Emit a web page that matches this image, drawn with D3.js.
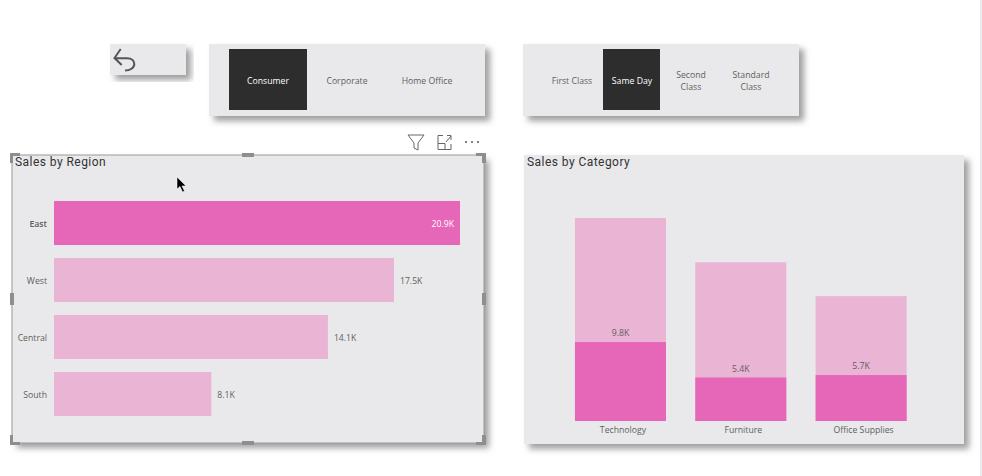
<!DOCTYPE html>
<html>
<head>
<meta charset="utf-8">
<script src="https://cdn.jsdelivr.net/npm/d3@7"></script>
<style>
    html, body { margin: 0; padding: 0; background: #fff; overflow: hidden; }
    text { font-family: "Open Sans", sans-serif; font-size: 8.7px; fill: #605e5c; }
    .title { font-family: Roboto, sans-serif; font-size: 12px; letter-spacing: 0.45px; fill: #333; }
    .axis path, .axis line { display: none; }
</style>
</head>
<body>
<svg id="page" width="982" height="476"></svg>
<script>
let svg = d3.select("#page");
let panelFill = "#e9e9eb", dark = "#2d2d2d", strong = "#e667b8", soft = "#eab4d5";

let regionData = [
    {region: "East", sales: 20.9},
    {region: "West", sales: 17.5},
    {region: "Central", sales: 14.1},
    {region: "South", sales: 8.1}
];
let categoryData = [
    {category: "Technology", total: 25.2, selected: 9.8},
    {category: "Furniture", total: 19.7, selected: 5.4},
    {category: "Office Supplies", total: 15.5, selected: 5.7}
];

// -- shadow used by all the panels -- //
let filter = svg.append("defs").append("filter").attr("id", "shadow")
    .attr("x", "-5%").attr("y", "-10%").attr("width", "115%").attr("height", "130%");
filter.append("feDropShadow").attr("dx", 5).attr("dy", 5).attr("stdDeviation", 3)
    .attr("flood-color", "#777").attr("flood-opacity", 0.7);

let panels = [[110, 44, 76, 31], [209, 44, 276, 72], [523, 44, 276, 72], [12, 155, 472, 288], [524, 155, 440, 289]];
svg.selectAll(".panel").data(panels).enter().append("rect")
    .attr("class", "panel")
    .attr("x", d => d[0]).attr("y", d => d[1])
    .attr("width", d => d[2]).attr("height", d => d[3])
    .style("fill", panelFill)
    .style("filter", "url(#shadow)");

// right edge of the window
svg.append("line").attr("x1", 981).attr("x2", 981).attr("y1", 0).attr("y2", 476)
    .style("stroke", "#d5d5dc");

// -- slicers -- //
let slicerRects = [[229, 49, 78, 61], [603, 49, 57, 61]];
svg.selectAll(".selected").data(slicerRects).enter().append("rect")
    .attr("class", "selected")
    .attr("x", d => d[0]).attr("y", d => d[1])
    .attr("width", d => d[2]).attr("height", d => d[3])
    .style("fill", dark);

let slicerItems = [
    {lines: ["Consumer"], x: 268, on: true},
    {lines: ["Corporate"], x: 347},
    {lines: ["Home Office"], x: 427},
    {lines: ["First Class"], x: 572},
    {lines: ["Same Day"], x: 632, on: true},
    {lines: ["Second", "Class"], x: 691},
    {lines: ["Standard", "Class"], x: 751}
];
slicerItems.forEach(item => {
    let t = svg.append("text")
        .attr("text-anchor", "middle")
        .style("fill", item.on ? "#fff" : "#605e5c");
    item.lines.forEach((line, i) => {
        t.append("tspan")
            .attr("x", item.x)
            .attr("y", 84 + (i - (item.lines.length - 1) / 2) * 12)
            .text(line);
    });
});

// -- back button -- //
svg.append("path")
    .attr("d", "M120.700 49 L114.500 58 L121.700 65 M115 58.300 H127 C132 58.300 134.300 61 134.300 64 C134.300 68 130 70.500 125 70.500")
    .style("fill", "none").style("stroke", "#555").style("stroke-width", 2);

// -- titles -- //
svg.append("text").attr("class", "title").attr("x", 15).attr("y", 166).text("Sales by Region");
svg.append("text").attr("class", "title").attr("x", 527).attr("y", 166).text("Sales by Category");

// -- bar chart -- //
let xScale = d3.scaleLinear().domain([0, 20.9]).range([54, 460]);
let yScale = d3.scaleBand().domain(regionData.map(d => d.region))
    .range([194.5, 422.5]).paddingInner(0.228).paddingOuter(0.114);

let yAxis = svg.append("g").attr("class", "axis")
    .attr("transform", "translate(54, 1)")
    .call(d3.axisLeft(yScale).tickSize(0).tickPadding(7));
yAxis.select(".domain").remove();
yAxis.selectAll("text").style("font-family", "'Open Sans', sans-serif").style("font-size", "8.7px")
    .style("fill", "#605e5c")
    .style("font-weight", d => d === "East" ? 600 : 400);

svg.selectAll(".bar").data(regionData).enter().append("rect")
    .attr("class", "bar")
    .attr("x", xScale(0))
    .attr("y", d => yScale(d.region))
    .attr("width", d => xScale(d.sales) - xScale(0))
    .attr("height", yScale.bandwidth())
    .style("fill", (d, i) => i === 0 ? strong : soft);

svg.selectAll(".barLabel").data(regionData).enter().append("text")
    .attr("class", "barLabel")
    .attr("x", (d, i) => i === 0 ? xScale(d.sales) - 6 : xScale(d.sales) + 6)
    .attr("y", d => yScale(d.region) + yScale.bandwidth() / 2 + 4)
    .attr("text-anchor", (d, i) => i === 0 ? "end" : "start")
    .style("fill", (d, i) => i === 0 ? "#fff" : "#605e5c")
    .text(d => d.sales + "K");

// -- column chart -- //
let colScale = d3.scaleBand().domain(categoryData.map(d => d.category))
    .range([560.3, 921.3]).paddingInner(0.2436).paddingOuter(0.1218);
let valScale = d3.scaleLinear().domain([0, 25.2]).range([421, 218]);

let colAxis = svg.append("g").attr("class", "axis")
    .attr("transform", "translate(2.5, 421)")
    .call(d3.axisBottom(colScale).tickSize(0).tickPadding(6));
colAxis.select(".domain").remove();
colAxis.selectAll("text").style("font-family", "'Open Sans', sans-serif").style("font-size", "8.7px")
    .style("fill", "#605e5c");

svg.selectAll(".col").data(categoryData).enter().append("rect")
    .attr("class", "col")
    .attr("x", d => colScale(d.category))
    .attr("y", d => valScale(d.total))
    .attr("width", colScale.bandwidth())
    .attr("height", d => valScale(0) - valScale(d.total))
    .style("fill", soft);

svg.selectAll(".colSel").data(categoryData).enter().append("rect")
    .attr("class", "colSel")
    .attr("x", d => colScale(d.category))
    .attr("y", d => valScale(d.selected))
    .attr("width", colScale.bandwidth())
    .attr("height", d => valScale(0) - valScale(d.selected))
    .style("fill", strong);

svg.selectAll(".colLabel").data(categoryData).enter().append("text")
    .attr("class", "colLabel")
    .attr("x", d => colScale(d.category) + colScale.bandwidth() / 2)
    .attr("y", d => valScale(d.selected) - 6)
    .attr("text-anchor", "middle")
    .text(d => d.selected + "K");

// -- selection frame on the left visual -- //
svg.append("rect").attr("x", 12).attr("y", 155).attr("width", 472).attr("height", 288)
    .style("fill", "none").style("stroke", "#9a9a9a").style("stroke-width", 1);

let handles = [
    "M10 153 H20 V156 H13 V163 H10 Z", "M476 153 H486 V163 H482 V156 H476 Z",
    "M10 445 H20 V442 H13 V435 H10 Z", "M476 445 H486 V435 H482 V442 H476 Z",
    "M242 153 H254 V157 H242 Z", "M242 441 H254 V445 H242 Z",
    "M10 293 H14 V305 H10 Z", "M482 293 H486 V305 H482 Z"
];
svg.selectAll(".handle").data(handles).enter().append("path")
    .attr("class", "handle").attr("d", d => d).style("fill", "#8e8e8e");

// -- visual header icons -- //
svg.append("path").attr("d", "M408 135 H424 L418 143 V150 L414 148 V143 Z")
    .style("fill", "none").style("stroke", "#666").style("stroke-width", 1);
svg.append("path").attr("d", "M443 135.500 H438 V149.500 H451 V144 M438 143.500 H445 V149.500 M446 142 L451 136 M447 135.500 H451 V140")
    .style("fill", "none").style("stroke", "#666").style("stroke-width", 1);
svg.selectAll(".dot").data([466, 472, 478]).enter().append("circle")
    .attr("class", "dot").attr("cx", d => d).attr("cy", 142).attr("r", 1)
    .style("fill", "#555");

// -- mouse pointer -- //
svg.append("path").attr("d", "M177 177 V189 L180 186.500 L182.500 192 L184.500 191 L182 186 H186 Z")
    .style("fill", "#000").style("stroke", "#fff").style("stroke-width", 0.5);
</script>
</body>
</html>
